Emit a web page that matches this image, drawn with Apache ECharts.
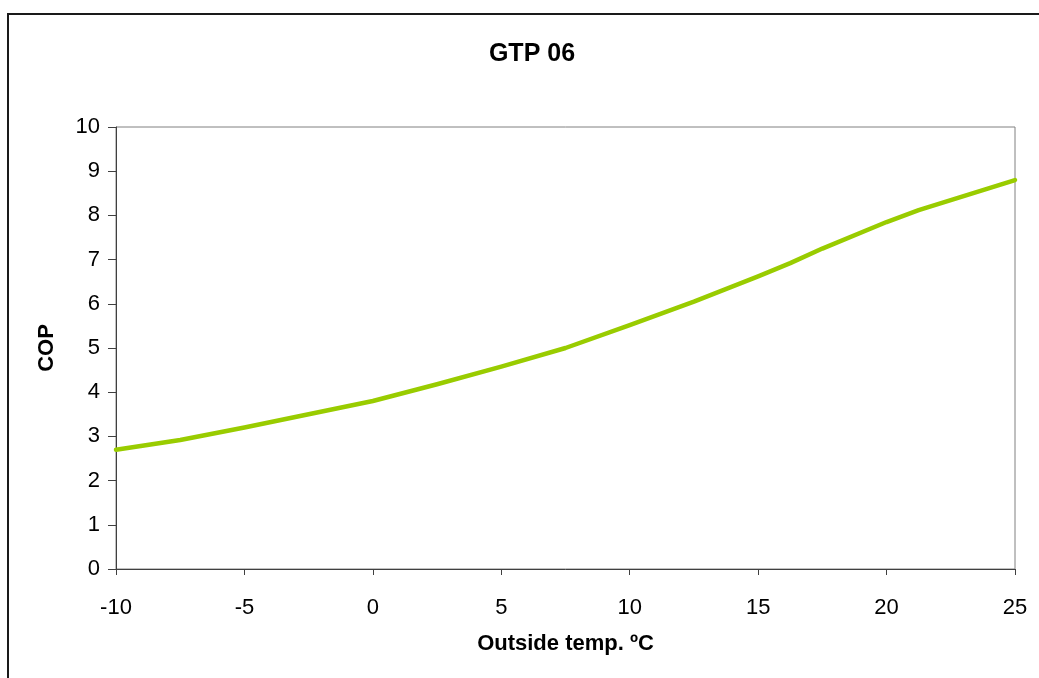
<!DOCTYPE html>
<html>
<head>
<meta charset="utf-8">
<script src="https://cdn.jsdelivr.net/npm/echarts@6/dist/echarts.min.js"></script>
<style>html,body{margin:0;padding:0;background:#fff;}#c{width:1039px;height:678px;}</style>
</head>
<body>
<div id="c"></div>
<script>
var titleText = "GTP 06";
var xName = "Outside temp. ºC";
var yName = "COP";
var temps = [-10, -7.5, -5, -2.5, 0, 2.5, 5, 7.5, 10, 12.5, 15, 16.25, 17.5, 20, 21.25, 25];
var cop =   [2.7, 2.92, 3.2, 3.5, 3.8, 4.18, 4.58, 5.0, 5.52, 6.05, 6.62, 6.92, 7.25, 7.85, 8.12, 8.8];
var xTicks = [-10, 25, 5];
var yTicks = [0, 10, 1];

var font = "'Liberation Sans', Arial, sans-serif";
var chart = echarts.init(document.getElementById('c'), null, {renderer: 'canvas'});
var data = temps.map(function (t, i) { return [t, cop[i]]; });
chart.setOption({
  animation: false,
  backgroundColor: '#ffffff',
  title: {
    text: titleText, left: 527, top: 37, textAlign: 'center',
    textStyle: {fontFamily: font, fontSize: 25, fontWeight: 'bold', color: '#000'}
  },
  grid: {left: 116, top: 127, right: 24, bottom: 109, show: true, borderColor: '#808080', borderWidth: 1, backgroundColor: 'transparent'},
  xAxis: {
    type: 'value', min: xTicks[0], max: xTicks[1], interval: xTicks[2],
    name: xName, nameLocation: 'middle', nameGap: 64,
    nameTextStyle: {fontFamily: font, fontSize: 22, fontWeight: 'bold', color: '#000'},
    axisLine: {show: true, onZero: false, lineStyle: {color: '#404040', width: 1}},
    axisTick: {show: true, inside: false, length: 6, lineStyle: {color: '#404040'}},
    axisLabel: {fontFamily: font, fontSize: 22, color: '#000', margin: 28},
    splitLine: {show: false}
  },
  yAxis: {
    type: 'value', min: yTicks[0], max: yTicks[1], interval: yTicks[2],
    name: yName, nameLocation: 'middle', nameGap: 58, nameRotate: 90,
    nameTextStyle: {fontFamily: font, fontSize: 22, fontWeight: 'bold', color: '#000'},
    axisLine: {show: true, onZero: false, lineStyle: {color: '#404040', width: 1}},
    axisTick: {show: true, inside: false, length: 8, lineStyle: {color: '#404040'}},
    axisLabel: {fontFamily: font, fontSize: 22, color: '#000', margin: 16},
    splitLine: {show: false}
  },
  series: [{
    type: 'line', data: data, showSymbol: false, smooth: false,
    lineStyle: {color: '#99cc00', width: 4.5, join: 'round', cap: 'round'}
  }],
  graphic: [{
    type: 'rect', silent: true,
    shape: {x: 8, y: 14, width: 1100, height: 800},
    style: {fill: 'none', stroke: '#1a1a1a', lineWidth: 2}
  }]
});
</script>
</body>
</html>
